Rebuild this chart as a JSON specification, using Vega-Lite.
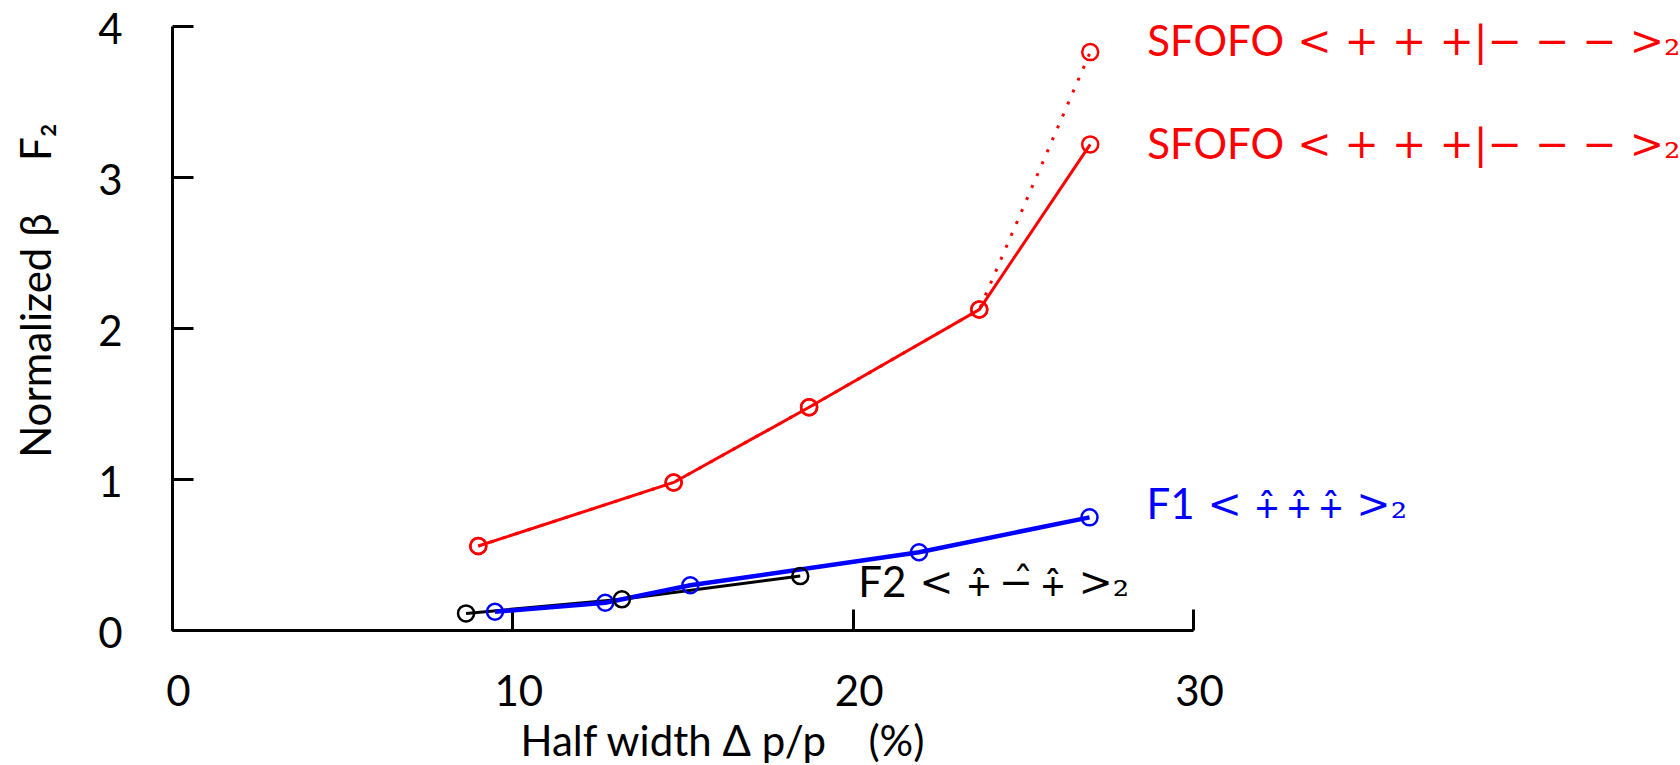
{
  "$schema": "https://vega.github.io/schema/vega-lite/v6.json",
  "width": 1021,
  "height": 604,
  "autosize": {"type": "none"},
  "padding": {"left": 172, "top": 26, "right": 487, "bottom": 135},
  "background": "white",
  "config": {
    "view": {"stroke": null},
    "font": "Lato",
    "axis": {
      "grid": false,
      "domainColor": "black",
      "domainWidth": 3,
      "tickColor": "black",
      "tickWidth": 3,
      "tickSize": -21,
      "labelFont": "Lato",
      "labelFontSize": 42,
      "labelColor": "black",
      "labelFlush": false,
      "labelOverlap": false,
      "titleFont": "Lato",
      "titleFontSize": 42,
      "titleFontWeight": "normal",
      "titleColor": "black"
    }
  },
  "datasets": {
    "curves": [
      {"series": "SFOFO dotted", "hw": 9.00, "beta": 0.556},
      {"series": "SFOFO dotted", "hw": 14.74, "beta": 0.977},
      {"series": "SFOFO dotted", "hw": 18.72, "beta": 1.475},
      {"series": "SFOFO dotted", "hw": 23.72, "beta": 2.122},
      {"series": "SFOFO dotted", "hw": 26.98, "beta": 3.827, "name": "SFOFO", "state": "< + + +|− − − >₂"},
      {"series": "SFOFO", "hw": 9.00, "beta": 0.556},
      {"series": "SFOFO", "hw": 14.74, "beta": 0.977},
      {"series": "SFOFO", "hw": 18.72, "beta": 1.475},
      {"series": "SFOFO", "hw": 23.72, "beta": 2.122},
      {"series": "SFOFO", "hw": 26.98, "beta": 3.216, "name": "SFOFO", "state": "< + + +|− − − >₂"},
      {"series": "F1", "hw": 9.49, "beta": 0.121},
      {"series": "F1", "hw": 12.73, "beta": 0.181},
      {"series": "F1", "hw": 15.23, "beta": 0.296},
      {"series": "F1", "hw": 21.95, "beta": 0.515},
      {"series": "F1", "hw": 26.96, "beta": 0.746, "name": "F1", "state": "< ⨣\u2009⨣\u2009⨣ >₂"},
      {"series": "F2", "hw": 8.64, "beta": 0.110},
      {"series": "F2", "hw": 13.22, "beta": 0.203},
      {"series": "F2", "hw": 18.46, "beta": 0.357, "name": "F2", "state": "< ⨣\u2009−̂\u2009⨣ >₂"}
    ]
  },
  "data": {"name": "curves"},
  "encoding": {
    "x": {
      "field": "hw",
      "type": "quantitative",
      "scale": {"domain": [0, 30], "nice": false, "zero": false},
      "axis": {
        "values": [0, 10, 20, 30],
        "labelPadding": 63,
        "labelOffset": 6,
        "title": "Half width Δ p/p\u2003 (%)",
        "titleX": 550,
        "titleY": 92
      }
    },
    "y": {
      "field": "beta",
      "type": "quantitative",
      "scale": {"domain": [0, 4], "nice": false, "zero": false},
      "axis": {
        "values": [0, 1, 2, 3, 4],
        "labelPadding": 71,
        "labelOffset": 4,
        "title": "Normalized β\u2003\u2002F₂",
        "titleX": -113,
        "titleY": 264
      }
    }
  },
  "layer": [
    {
      "transform": [{"filter": "datum.series === 'SFOFO dotted'"}],
      "mark": {"type": "line", "color": "#ff0000", "strokeWidth": 3, "strokeDash": [3, 10]}
    },
    {
      "transform": [{"filter": "datum.series === 'SFOFO'"}],
      "mark": {"type": "line", "color": "#ff0000", "strokeWidth": 3}
    },
    {
      "transform": [{"filter": "datum.series === 'F2'"}],
      "mark": {"type": "line", "color": "#000000", "strokeWidth": 3}
    },
    {
      "transform": [{"filter": "datum.series === 'F1'"}],
      "mark": {"type": "line", "color": "#0000ff", "strokeWidth": 4.5}
    },
    {
      "mark": {"type": "point", "shape": "circle", "size": 256, "filled": false, "strokeWidth": 2.5, "opacity": 1},
      "encoding": {
        "color": {
          "field": "series",
          "type": "nominal",
          "scale": {"domain": ["SFOFO dotted", "SFOFO", "F1", "F2"], "range": ["#ff0000", "#ff0000", "#0000ff", "#000000"]},
          "legend": null
        }
      }
    },
    {
      "transform": [{"filter": "datum.series === 'SFOFO dotted' && datum.name"}],
      "mark": {"type": "text", "align": "left", "baseline": "middle", "dx": 57, "dy": -9, "fontSize": 42, "color": "#ff0000"},
      "encoding": {"text": {"field": "name"}}
    },
    {
      "transform": [{"filter": "datum.series === 'SFOFO dotted' && datum.name"}],
      "mark": {"type": "text", "align": "left", "baseline": "middle", "dx": 207, "dy": -9, "fontSize": 41, "font": "DejaVu Serif", "color": "#ff0000"},
      "encoding": {"text": {"field": "state"}}
    },
    {
      "transform": [{"filter": "datum.series === 'SFOFO' && datum.name"}],
      "mark": {"type": "text", "align": "left", "baseline": "middle", "dx": 57, "dy": 2, "fontSize": 42, "color": "#ff0000"},
      "encoding": {"text": {"field": "name"}}
    },
    {
      "transform": [{"filter": "datum.series === 'SFOFO' && datum.name"}],
      "mark": {"type": "text", "align": "left", "baseline": "middle", "dx": 207, "dy": 2, "fontSize": 41, "font": "DejaVu Serif", "color": "#ff0000"},
      "encoding": {"text": {"field": "state"}}
    },
    {
      "transform": [{"filter": "datum.series === 'F1' && datum.name"}],
      "mark": {"type": "text", "align": "left", "baseline": "middle", "dx": 57, "dy": -11, "fontSize": 42, "color": "#0000ff"},
      "encoding": {"text": {"field": "name"}}
    },
    {
      "transform": [{"filter": "datum.series === 'F1' && datum.name"}],
      "mark": {"type": "text", "align": "left", "baseline": "middle", "dx": 118, "dy": -11, "fontSize": 41, "font": "DejaVu Serif", "color": "#0000ff"},
      "encoding": {"text": {"field": "state"}}
    },
    {
      "transform": [{"filter": "datum.series === 'F2' && datum.name"}],
      "mark": {"type": "text", "align": "left", "baseline": "middle", "dx": 58, "dy": 8, "fontSize": 42, "color": "#000000"},
      "encoding": {"text": {"field": "name"}}
    },
    {
      "transform": [{"filter": "datum.series === 'F2' && datum.name"}],
      "mark": {"type": "text", "align": "left", "baseline": "middle", "dx": 119, "dy": 8, "fontSize": 41, "font": "DejaVu Serif", "color": "#000000"},
      "encoding": {"text": {"field": "state"}}
    }
  ]
}
